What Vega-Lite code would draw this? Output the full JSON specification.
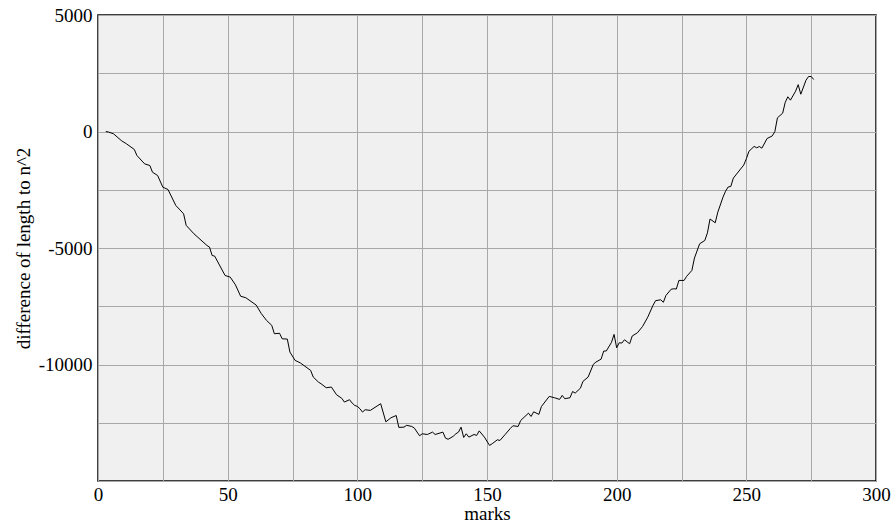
{
  "$schema": "https://vega.github.io/schema/vega-lite/v6.json",
  "width": 778,
  "height": 466,
  "autosize": {"type": "none"},
  "padding": {"left": 98, "top": 15, "right": 20, "bottom": 46},
  "background": "white",
  "config": {
    "view": {"fill": "#f0f0f0", "stroke": "#000000", "strokeWidth": 1.5},
    "font": "serif",
    "axis": {
      "labelFont": "serif",
      "titleFont": "serif",
      "labelFontSize": 19,
      "titleFontSize": 19,
      "labelColor": "#000000",
      "titleColor": "#000000",
      "titleFontWeight": "normal",
      "gridColor": "#a8a8a8",
      "gridWidth": 1,
      "gridOpacity": 1,
      "domain": false,
      "ticks": false
    }
  },
  "data": {
    "values": [
      {"marks": 3, "diff": 0}, {"marks": 4, "diff": -20}, {"marks": 6, "diff": -100}, {"marks": 9, "diff": -390},
      {"marks": 11, "diff": -530}, {"marks": 14, "diff": -770}, {"marks": 15, "diff": -1030}, {"marks": 18, "diff": -1390},
      {"marks": 20, "diff": -1460}, {"marks": 21, "diff": -1745}, {"marks": 23, "diff": -1890}, {"marks": 25, "diff": -2390},
      {"marks": 27, "diff": -2490}, {"marks": 30, "diff": -3175}, {"marks": 33, "diff": -3530}, {"marks": 34, "diff": -4030},
      {"marks": 37, "diff": -4390}, {"marks": 42, "diff": -4890}, {"marks": 43, "diff": -4960}, {"marks": 44, "diff": -5320},
      {"marks": 45, "diff": -5350}, {"marks": 49, "diff": -6180}, {"marks": 51, "diff": -6250}, {"marks": 53, "diff": -6580},
      {"marks": 55, "diff": -7070}, {"marks": 57, "diff": -7135}, {"marks": 61, "diff": -7450}, {"marks": 63, "diff": -7820},
      {"marks": 65, "diff": -8110}, {"marks": 67, "diff": -8320}, {"marks": 68, "diff": -8680}, {"marks": 70, "diff": -8660},
      {"marks": 71, "diff": -8895}, {"marks": 73, "diff": -8910}, {"marks": 74, "diff": -9467}, {"marks": 76, "diff": -9823},
      {"marks": 78, "diff": -9930}, {"marks": 82, "diff": -10253}, {"marks": 83, "diff": -10539}, {"marks": 85, "diff": -10754},
      {"marks": 86, "diff": -10825}, {"marks": 88, "diff": -10997}, {"marks": 90, "diff": -10968}, {"marks": 92, "diff": -11300},
      {"marks": 94, "diff": -11450}, {"marks": 95, "diff": -11612}, {"marks": 97, "diff": -11511}, {"marks": 98, "diff": -11655},
      {"marks": 99, "diff": -11755}, {"marks": 100, "diff": -11798}, {"marks": 101, "diff": -11898}, {"marks": 102, "diff": -12042},
      {"marks": 103, "diff": -11941}, {"marks": 105, "diff": -11970}, {"marks": 109, "diff": -11683}, {"marks": 111, "diff": -12460},
      {"marks": 113, "diff": -12284}, {"marks": 115, "diff": -12190}, {"marks": 116, "diff": -12700}, {"marks": 118, "diff": -12688},
      {"marks": 119, "diff": -12610}, {"marks": 121, "diff": -12659}, {"marks": 122, "diff": -12730}, {"marks": 124, "diff": -13060},
      {"marks": 125, "diff": -12974}, {"marks": 127, "diff": -13003}, {"marks": 129, "diff": -12903}, {"marks": 130, "diff": -13003},
      {"marks": 133, "diff": -12903}, {"marks": 134, "diff": -13160}, {"marks": 135, "diff": -13210}, {"marks": 137, "diff": -13080},
      {"marks": 138, "diff": -12974}, {"marks": 139, "diff": -12903}, {"marks": 140, "diff": -12688}, {"marks": 141, "diff": -13130},
      {"marks": 142, "diff": -12974}, {"marks": 143, "diff": -13117}, {"marks": 145, "diff": -13003}, {"marks": 146, "diff": -13044},
      {"marks": 147, "diff": -12850}, {"marks": 149, "diff": -13117}, {"marks": 151, "diff": -13474}, {"marks": 152, "diff": -13400},
      {"marks": 154, "diff": -13231}, {"marks": 155, "diff": -13260}, {"marks": 157, "diff": -13003}, {"marks": 159, "diff": -12745},
      {"marks": 160, "diff": -12630}, {"marks": 162, "diff": -12659}, {"marks": 163, "diff": -12402}, {"marks": 166, "diff": -12087},
      {"marks": 167, "diff": -12230}, {"marks": 168, "diff": -12030}, {"marks": 170, "diff": -12141}, {"marks": 171, "diff": -11800},
      {"marks": 174, "diff": -11369}, {"marks": 176, "diff": -11426}, {"marks": 178, "diff": -11497}, {"marks": 179, "diff": -11326},
      {"marks": 180, "diff": -11469}, {"marks": 182, "diff": -11426}, {"marks": 183, "diff": -11160}, {"marks": 184, "diff": -11226},
      {"marks": 186, "diff": -11020}, {"marks": 187, "diff": -10725}, {"marks": 189, "diff": -10539}, {"marks": 191, "diff": -9995},
      {"marks": 192, "diff": -9895}, {"marks": 194, "diff": -9770}, {"marks": 195, "diff": -9424}, {"marks": 196, "diff": -9420},
      {"marks": 198, "diff": -9050}, {"marks": 199, "diff": -8708}, {"marks": 200, "diff": -9281}, {"marks": 201, "diff": -9066},
      {"marks": 202, "diff": -9080}, {"marks": 203, "diff": -8938}, {"marks": 205, "diff": -9109}, {"marks": 206, "diff": -8775},
      {"marks": 208, "diff": -8640}, {"marks": 210, "diff": -8366}, {"marks": 212, "diff": -7966}, {"marks": 214, "diff": -7464},
      {"marks": 215, "diff": -7260}, {"marks": 217, "diff": -7222}, {"marks": 218, "diff": -7330}, {"marks": 219, "diff": -7036},
      {"marks": 221, "diff": -6770}, {"marks": 222, "diff": -6750}, {"marks": 223, "diff": -6760}, {"marks": 224, "diff": -6392},
      {"marks": 226, "diff": -6392}, {"marks": 227, "diff": -6215}, {"marks": 229, "diff": -5963}, {"marks": 230, "diff": -5430},
      {"marks": 232, "diff": -4819}, {"marks": 234, "diff": -4676}, {"marks": 235, "diff": -4350}, {"marks": 236, "diff": -3755},
      {"marks": 238, "diff": -3918}, {"marks": 239, "diff": -3462}, {"marks": 241, "diff": -2818}, {"marks": 242, "diff": -2561},
      {"marks": 243, "diff": -2380}, {"marks": 244, "diff": -2361}, {"marks": 245, "diff": -2000}, {"marks": 249, "diff": -1440},
      {"marks": 250, "diff": -1171}, {"marks": 251, "diff": -850}, {"marks": 253, "diff": -640}, {"marks": 254, "diff": -700},
      {"marks": 255, "diff": -644}, {"marks": 256, "diff": -716}, {"marks": 258, "diff": -300}, {"marks": 260, "diff": -190},
      {"marks": 261, "diff": 0}, {"marks": 262, "diff": 588}, {"marks": 264, "diff": 785}, {"marks": 265, "diff": 1250},
      {"marks": 266, "diff": 1490}, {"marks": 267, "diff": 1345}, {"marks": 269, "diff": 1730}, {"marks": 270, "diff": 2010},
      {"marks": 271, "diff": 1600}, {"marks": 273, "diff": 2200}, {"marks": 274, "diff": 2360}, {"marks": 275, "diff": 2360},
      {"marks": 276, "diff": 2231}
    ]
  },
  "mark": {"type": "line", "color": "#000000", "strokeWidth": 1, "clip": true},
  "encoding": {
    "x": {
      "field": "marks",
      "type": "quantitative",
      "scale": {"domain": [0, 300], "nice": false, "zero": false},
      "axis": {
        "title": "marks",
        "values": [0, 25, 50, 75, 100, 125, 150, 175, 200, 225, 250, 275, 300],
        "labelExpr": "datum.value % 50 === 0 ? '' + datum.value : ''",
        "labelFlush": false,
        "labelPadding": 4,
        "labelOverlap": false,
        "titlePadding": 0
      }
    },
    "y": {
      "field": "diff",
      "type": "quantitative",
      "scale": {"domain": [-15000, 5000], "nice": false, "zero": false},
      "axis": {
        "title": "difference of length to n^2",
        "values": [-15000, -12500, -10000, -7500, -5000, -2500, 0, 2500, 5000],
        "labelExpr": "datum.value % 5000 === 0 && datum.value > -15000 ? '' + datum.value : ''",
        "labelFlush": false,
        "labelPadding": 6,
        "labelOverlap": false,
        "titlePadding": 5
      }
    }
  }
}
